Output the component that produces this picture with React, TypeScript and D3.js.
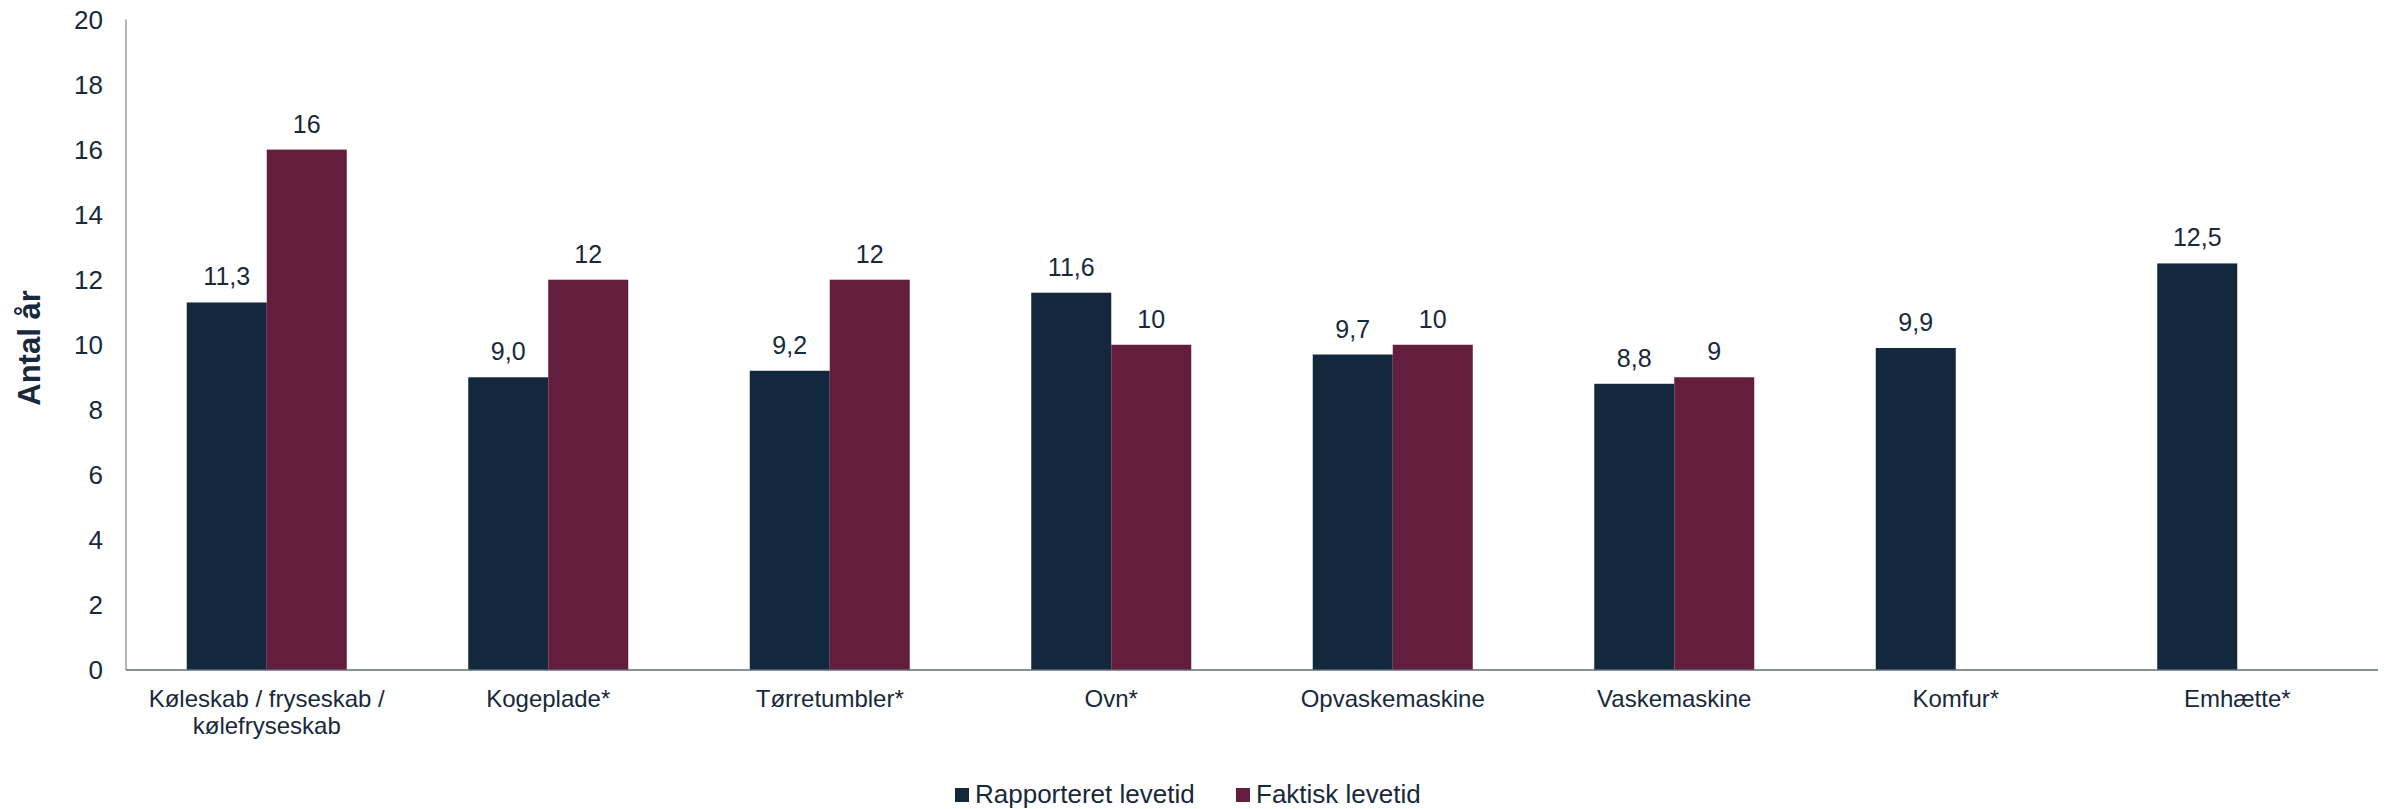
import React from "react";
import * as d3 from "d3";

const categories: string[][] = [
  ["Køleskab / fryseskab /", "kølefryseskab"],
  ["Kogeplade*"],
  ["Tørretumbler*"],
  ["Ovn*"],
  ["Opvaskemaskine"],
  ["Vaskemaskine"],
  ["Komfur*"],
  ["Emhætte*"],
];
const rapporteret: (number | null)[] = [11.3, 9.0, 9.2, 11.6, 9.7, 8.8, 9.9, 12.5];
const faktisk: (number | null)[] = [16, 12, 12, 10, 10, 9, null, null];
const yTicks: number[] = [0, 2, 4, 6, 8, 10, 12, 14, 16, 18, 20];
const seriesNames: string[] = ["Rapporteret levetid", "Faktisk levetid"];
const seriesColors: string[] = ["#13283c", "#621e3c"];

const W = 2387;
const H = 809;
const FONT = "'Liberation Sans', Arial, sans-serif";
const TEXT = "#17293b";

export default function App() {
  const left = 126;
  const right = 2378;
  const top = 19.5;
  const bottom = 670;

  const keys = categories.map((_, i) => String(i));
  const x0 = d3
    .scaleBand<string>()
    .domain(keys)
    .range([left, right])
    .paddingInner(0.4316)
    .paddingOuter(0.2158);
  const x1 = d3
    .scaleBand<string>()
    .domain(["r", "f"])
    .range([0, x0.bandwidth()]);
  const y = d3.scaleLinear().domain([0, 20]).range([bottom, top]);

  const fmtR = (v: number) => d3.format(".1f")(v).replace(".", ",");
  const fmtF = (v: number) => d3.format("d")(v);

  const series = [
    { key: "r", values: rapporteret, color: seriesColors[0], fmt: fmtR },
    { key: "f", values: faktisk, color: seriesColors[1], fmt: fmtF },
  ];

  const legendX = [955, 1236];

  return (
    <svg
      width={W}
      height={H}
      style={{ position: "absolute", left: 0, top: 0, display: "block", background: "#fff" }}
      fontFamily={FONT}
    >
      {/* y tick labels */}
      {yTicks.map((t) => (
        <text
          key={t}
          x={103}
          y={y(t)}
          dy="0.36em"
          textAnchor="end"
          fontSize={26}
          fill={TEXT}
        >
          {t}
        </text>
      ))}
      {/* y title */}
      <text
        transform={`translate(40,348) rotate(-90)`}
        textAnchor="middle"
        fontSize={31}
        fontWeight="bold"
        fill={TEXT}
      >
        Antal år
      </text>

      {/* bars */}
      {series.map((s) =>
        s.values.map((v, i) =>
          v == null ? null : (
            <g key={s.key + i}>
              <rect
                x={(x0(keys[i]) as number) + (x1(s.key) as number)}
                y={y(v)}
                width={x1.bandwidth()}
                height={y(0) - y(v)}
                fill={s.color}
              />
              <text
                x={(x0(keys[i]) as number) + (x1(s.key) as number) + x1.bandwidth() / 2}
                y={y(v) - 17}
                textAnchor="middle"
                fontSize={25}
                fill={TEXT}
              >
                {s.fmt(v)}
              </text>
            </g>
          )
        )
      )}

      {/* axes */}
      <line x1={left} x2={left} y1={top} y2={bottom} stroke="#9a9fa5" strokeWidth={1.5} />
      <line x1={left} x2={right} y1={bottom} y2={bottom} stroke="#5d6b78" strokeWidth={1.5} />

      {/* category labels */}
      {categories.map((lines, i) => (
        <text
          key={i}
          x={(x0(keys[i]) as number) + x0.bandwidth() / 2}
          y={706.5}
          textAnchor="middle"
          fontSize={24}
          fill={TEXT}
        >
          {lines.map((l, j) => (
            <tspan key={j} x={(x0(keys[i]) as number) + x0.bandwidth() / 2} dy={j === 0 ? 0 : 27.5}>
              {l}
            </tspan>
          ))}
        </text>
      ))}

      {/* legend */}
      {seriesNames.map((n, i) => (
        <g key={n}>
          <rect x={legendX[i]} y={788} width={14} height={14} fill={seriesColors[i]} />
          <text x={legendX[i] + 20} y={803} fontSize={26} fill={TEXT}>
            {n}
          </text>
        </g>
      ))}
    </svg>
  );
}
